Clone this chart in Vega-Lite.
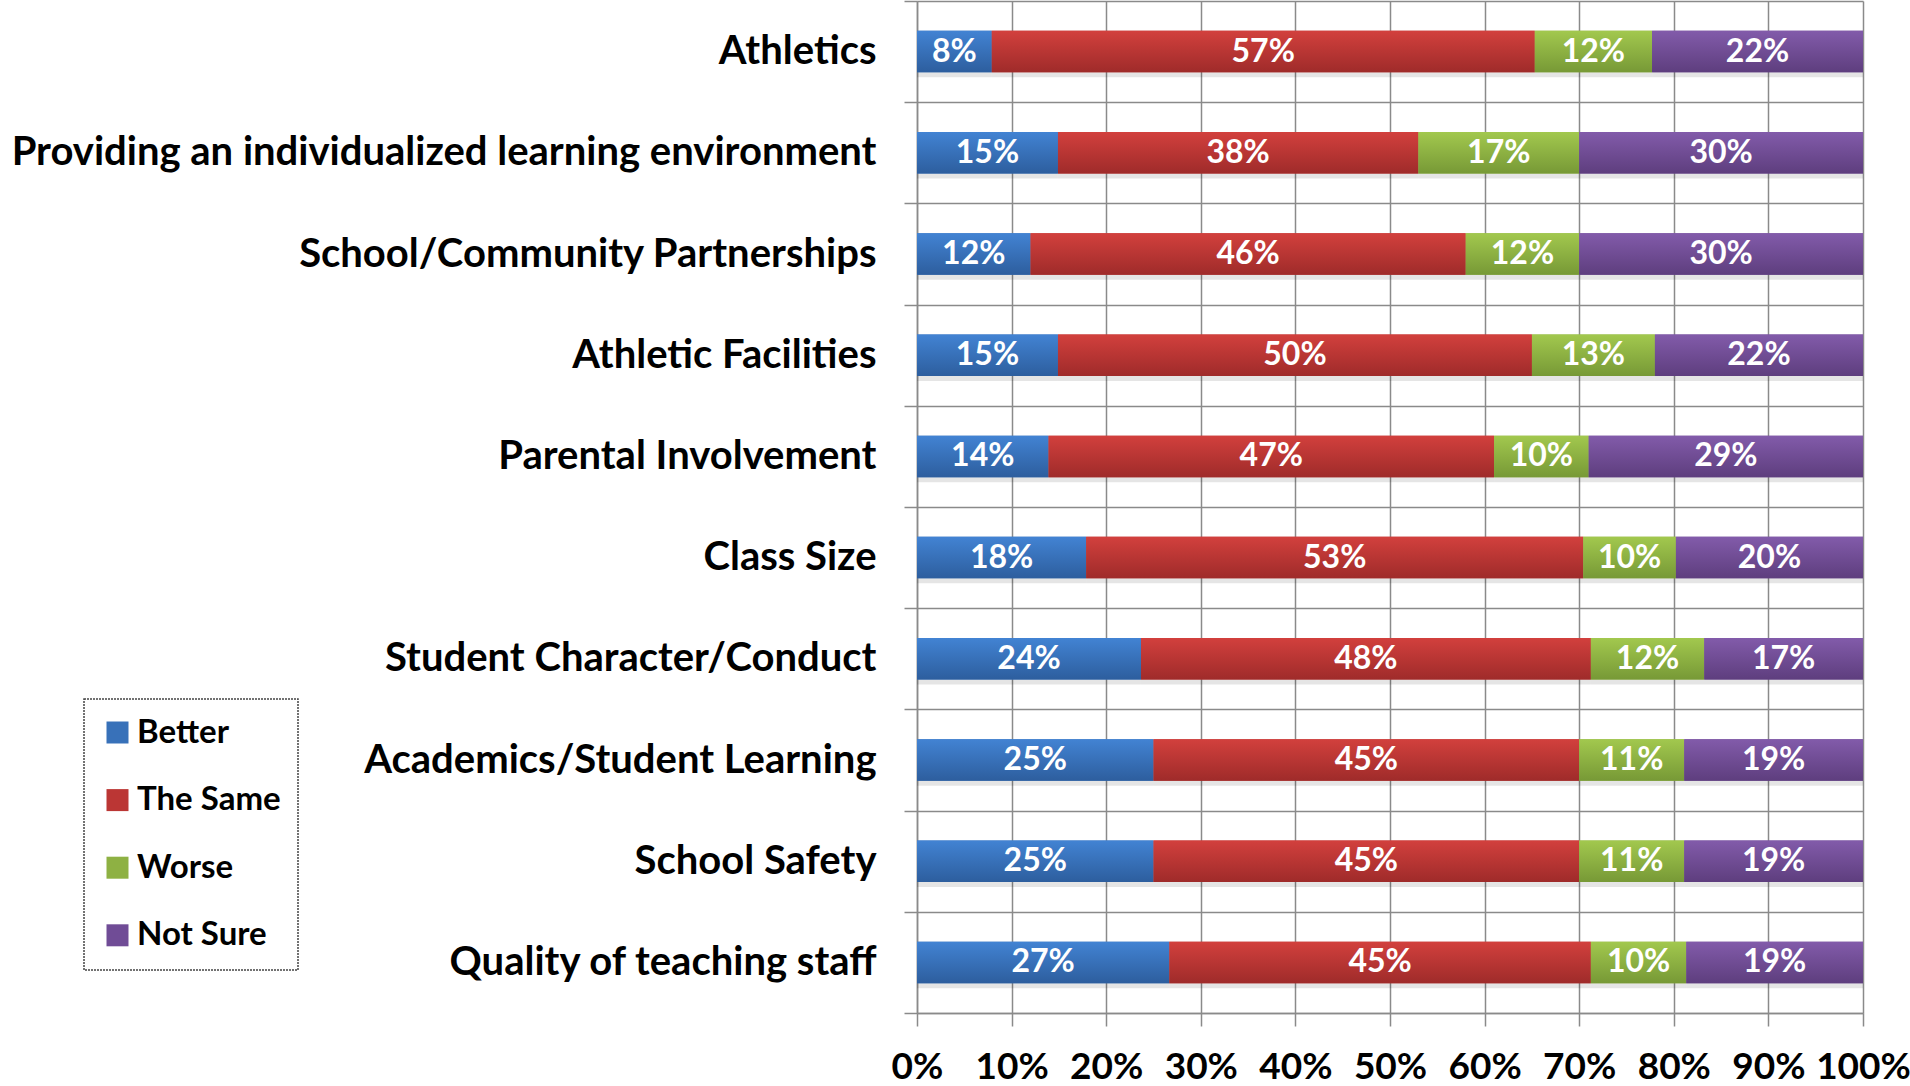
{
  "$schema": "https://vega.github.io/schema/vega-lite/v6.json",
  "width": 946,
  "height": 1012,
  "autosize": {"type": "none"},
  "padding": {"left": 917, "top": 1, "right": 47, "bottom": 73},
  "background": "white",
  "config": {"view": {"stroke": null}, "font": "Lato", "legend": {"strokeWidth": 1.5, "strokeDash": [2, 1]}},
  "data": {
    "values": [
      {"item": "Athletics", "resp": "Better", "o": 1, "v": 0.079},
      {"item": "Athletics", "resp": "The Same", "o": 2, "v": 0.574},
      {"item": "Athletics", "resp": "Worse", "o": 3, "v": 0.124},
      {"item": "Athletics", "resp": "Not Sure", "o": 4, "v": 0.223},
      {"item": "Providing an individualized learning environment", "resp": "Better", "o": 1, "v": 0.149},
      {"item": "Providing an individualized learning environment", "resp": "The Same", "o": 2, "v": 0.381},
      {"item": "Providing an individualized learning environment", "resp": "Worse", "o": 3, "v": 0.17},
      {"item": "Providing an individualized learning environment", "resp": "Not Sure", "o": 4, "v": 0.3},
      {"item": "School/Community Partnerships", "resp": "Better", "o": 1, "v": 0.12},
      {"item": "School/Community Partnerships", "resp": "The Same", "o": 2, "v": 0.46},
      {"item": "School/Community Partnerships", "resp": "Worse", "o": 3, "v": 0.12},
      {"item": "School/Community Partnerships", "resp": "Not Sure", "o": 4, "v": 0.3},
      {"item": "Athletic Facilities", "resp": "Better", "o": 1, "v": 0.149},
      {"item": "Athletic Facilities", "resp": "The Same", "o": 2, "v": 0.501},
      {"item": "Athletic Facilities", "resp": "Worse", "o": 3, "v": 0.13},
      {"item": "Athletic Facilities", "resp": "Not Sure", "o": 4, "v": 0.22},
      {"item": "Parental Involvement", "resp": "Better", "o": 1, "v": 0.139},
      {"item": "Parental Involvement", "resp": "The Same", "o": 2, "v": 0.471},
      {"item": "Parental Involvement", "resp": "Worse", "o": 3, "v": 0.1},
      {"item": "Parental Involvement", "resp": "Not Sure", "o": 4, "v": 0.29},
      {"item": "Class Size", "resp": "Better", "o": 1, "v": 0.179},
      {"item": "Class Size", "resp": "The Same", "o": 2, "v": 0.526},
      {"item": "Class Size", "resp": "Worse", "o": 3, "v": 0.098},
      {"item": "Class Size", "resp": "Not Sure", "o": 4, "v": 0.198},
      {"item": "Student Character/Conduct", "resp": "Better", "o": 1, "v": 0.237},
      {"item": "Student Character/Conduct", "resp": "The Same", "o": 2, "v": 0.476},
      {"item": "Student Character/Conduct", "resp": "Worse", "o": 3, "v": 0.12},
      {"item": "Student Character/Conduct", "resp": "Not Sure", "o": 4, "v": 0.168},
      {"item": "Academics/Student Learning", "resp": "Better", "o": 1, "v": 0.25},
      {"item": "Academics/Student Learning", "resp": "The Same", "o": 2, "v": 0.45},
      {"item": "Academics/Student Learning", "resp": "Worse", "o": 3, "v": 0.111},
      {"item": "Academics/Student Learning", "resp": "Not Sure", "o": 4, "v": 0.189},
      {"item": "School Safety", "resp": "Better", "o": 1, "v": 0.25},
      {"item": "School Safety", "resp": "The Same", "o": 2, "v": 0.45},
      {"item": "School Safety", "resp": "Worse", "o": 3, "v": 0.111},
      {"item": "School Safety", "resp": "Not Sure", "o": 4, "v": 0.189},
      {"item": "Quality of teaching staff", "resp": "Better", "o": 1, "v": 0.267},
      {"item": "Quality of teaching staff", "resp": "The Same", "o": 2, "v": 0.446},
      {"item": "Quality of teaching staff", "resp": "Worse", "o": 3, "v": 0.101},
      {"item": "Quality of teaching staff", "resp": "Not Sure", "o": 4, "v": 0.187}
    ]
  },
  "encoding": {
    "y": {
      "field": "item",
      "type": "nominal",
      "sort": null,
      "title": null,
      "scale": {"paddingInner": 0, "paddingOuter": 0},
      "axis": {
        "tickBand": "extent",
        "grid": true,
        "gridColor": "#8a8a8a",
        "gridWidth": 1.5,
        "tickColor": "#8a8a8a",
        "tickWidth": 1.5,
        "tickSize": 13,
        "domainColor": "#8a8a8a",
        "domainWidth": 1.5,
        "labelFont": "Lato",
        "labelFontWeight": "bold",
        "labelFontSize": 40,
        "labelColor": "#000000",
        "labelPadding": 28,
        "labelLimit": 1000
      }
    }
  },
  "layer": [
    {
      "mark": {"type": "bar", "height": {"band": 0.41}, "yOffset": 5, "color": "#000000", "opacity": 0.1},
      "encoding": {
        "x": {"field": "v", "type": "quantitative", "stack": "normalize"},
        "detail": {"field": "resp"},
        "order": {"field": "o"}
      }
    },
    {
      "mark": {"type": "bar", "height": {"band": 0.41}},
      "encoding": {
        "x": {
          "field": "v",
          "type": "quantitative",
          "stack": "normalize",
          "title": null,
          "scale": {"domain": [0, 1]},
          "axis": {
            "values": [0, 0.1, 0.2, 0.3, 0.4, 0.5, 0.6, 0.7, 0.8, 0.9, 1],
            "format": ".0%",
            "grid": true,
            "gridColor": "#8a8a8a",
            "gridWidth": 1.5,
            "tickColor": "#8a8a8a",
            "tickWidth": 1.5,
            "tickSize": 13,
            "domainColor": "#8a8a8a",
            "domainWidth": 1.5,
            "labelFont": "Lato",
            "labelFontWeight": "bold",
            "labelFontSize": 37,
            "labelColor": "#000000",
            "labelPadding": 23,
            "labelFlush": false,
            "labelOverlap": false
          }
        },
        "color": {
          "field": "resp",
          "type": "nominal",
          "sort": ["Better", "The Same", "Worse", "Not Sure"],
          "scale": {
            "domain": ["Better", "The Same", "Worse", "Not Sure"],
            "range": ["#3871b9", "#bb3634", "#8eb143", "#704c96"]
          },
          "legend": {
            "orient": "none",
            "legendX": -833,
            "legendY": 698,
            "title": null,
            "symbolType": "square",
            "symbolSize": 484,
            "symbolStrokeWidth": 0,
            "labelFont": "Lato",
            "labelFontWeight": "bold",
            "labelFontSize": 33,
            "labelColor": "#000000",
            "labelOffset": 3,
            "rowPadding": 33.6,
            "padding": 17,
            "fillColor": "white",
            "strokeColor": "#444444"
          }
        },
        "order": {"field": "o"}
      }
    },
    {
      "mark": {"type": "bar", "height": {"band": 0.41}},
      "encoding": {
        "x": {"field": "v", "type": "quantitative", "stack": "normalize"},
        "detail": {"field": "resp"},
        "order": {"field": "o"},
        "color": {
          "condition": [
            {"test": "datum.resp === 'Better'", "value": {"gradient": "linear", "x1": 0, "y1": 0, "x2": 0, "y2": 1, "stops": [{"offset": 0, "color": "#4283d3"}, {"offset": 1, "color": "#2d5e9e"}]}},
            {"test": "datum.resp === 'The Same'", "value": {"gradient": "linear", "x1": 0, "y1": 0, "x2": 0, "y2": 1, "stops": [{"offset": 0, "color": "#d2403d"}, {"offset": 1, "color": "#9f2b2a"}]}},
            {"test": "datum.resp === 'Worse'", "value": {"gradient": "linear", "x1": 0, "y1": 0, "x2": 0, "y2": 1, "stops": [{"offset": 0, "color": "#a2c84e"}, {"offset": 1, "color": "#779936"}]}}
          ],
          "value": {"gradient": "linear", "x1": 0, "y1": 0, "x2": 0, "y2": 1, "stops": [{"offset": 0, "color": "#825baa"}, {"offset": 1, "color": "#5e3e7e"}]}
        }
      }
    },
    {
      "mark": {"type": "text", "color": "white", "font": "Lato", "fontWeight": "bold", "fontSize": 32, "baseline": "middle", "align": "center"},
      "encoding": {
        "x": {"field": "v", "type": "quantitative", "stack": "normalize", "bandPosition": 0.5},
        "detail": {"field": "resp"},
        "text": {"field": "v", "type": "quantitative", "format": ".0%"},
        "order": {"field": "o"}
      }
    }
  ]
}
